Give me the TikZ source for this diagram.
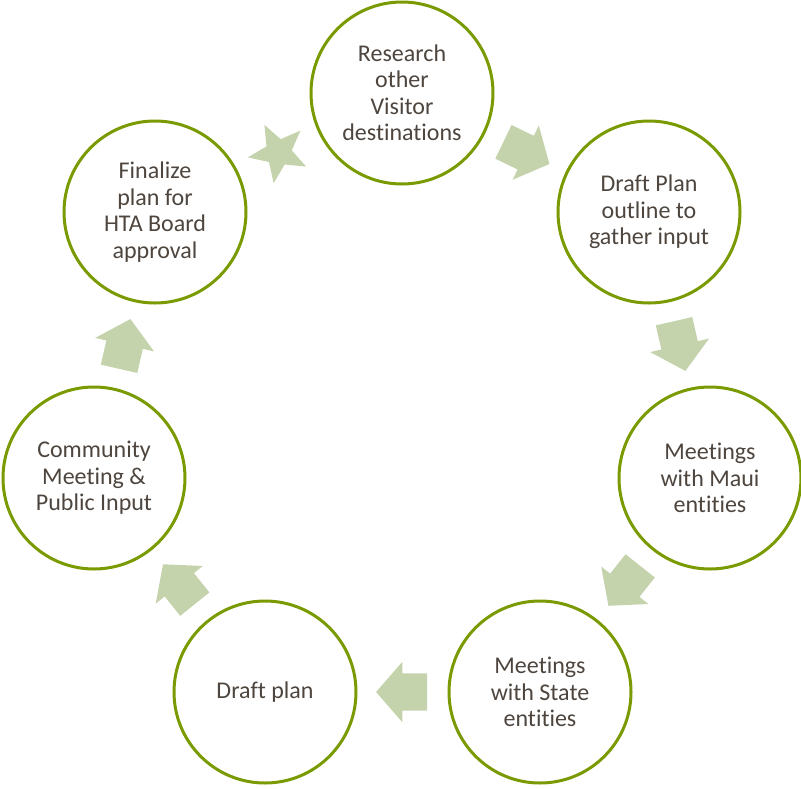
\documentclass[tikz,border=0pt]{standalone}
\usepackage{fontspec}
\setmainfont{Carlito}[Ligatures=NoCommon]
\usepackage{xcolor}
\usepackage{tikz}
\usetikzlibrary{shapes.geometric,shapes.arrows}
\definecolor{ringgreen}{RGB}{122,154,1}
\definecolor{arrowgreen}{RGB}{197,211,173}
\definecolor{textbrown}{RGB}{77,69,62}
\tikzset{
  stage/.style = {shape=circle, draw=ringgreen, line width=3pt,
                  minimum size=182pt, inner sep=0pt, align=center,
                  text=textbrown, font=\fontsize{24}{26.5}\selectfont},
  flow/.style  = {single arrow, fill=arrowgreen, minimum height=51pt,
                  inner xsep=0pt, inner ysep=18.5pt,
                  single arrow head extend=11.5pt,
                  single arrow tip angle=98, pos=0.42,
                  sloped, allow upside down},
  burst/.style = {star, star points=5, star point ratio=2.3,
                  fill=arrowgreen, minimum size=62pt, inner sep=0pt}
}
\begin{document}
\begin{tikzpicture}[x=1pt, y=-1pt]
  \useasboundingbox (0,0) rectangle (801,788);
  % the seven stages
  \node [stage] (res)   at (402,93)  {Research\\other\\Visitor\\destinations};
  \node [stage] (draft) at (649,212) {Draft Plan\\outline to\\gather input};
  \node [stage] (maui)  at (710,478) {Meetings\\with Maui\\entities};
  \node [stage] (state) at (540,692) {Meetings\\with State\\entities};
  \node [stage] (dplan) at (265,692) {Draft plan};
  \node [stage] (comm)  at (94,478)  {Community\\Meeting \&\\Public Input};
  \node [stage] (final) at (155,212) {Finalize\\plan for\\HTA Board\\approval};
  % block arrows between them
  \path (res)   -- node [flow] {} (draft);
  \path (draft) -- node [flow] {} (maui);
  \path (maui)  -- node [flow] {} (state);
  \path (state) -- node [flow] {} (dplan);
  \path (dplan) -- node [flow] {} (comm);
  \path (comm)  -- node [flow] {} (final);
  \path (final) -- node [burst, rotate=27] {} (res);
\end{tikzpicture}
\end{document}
